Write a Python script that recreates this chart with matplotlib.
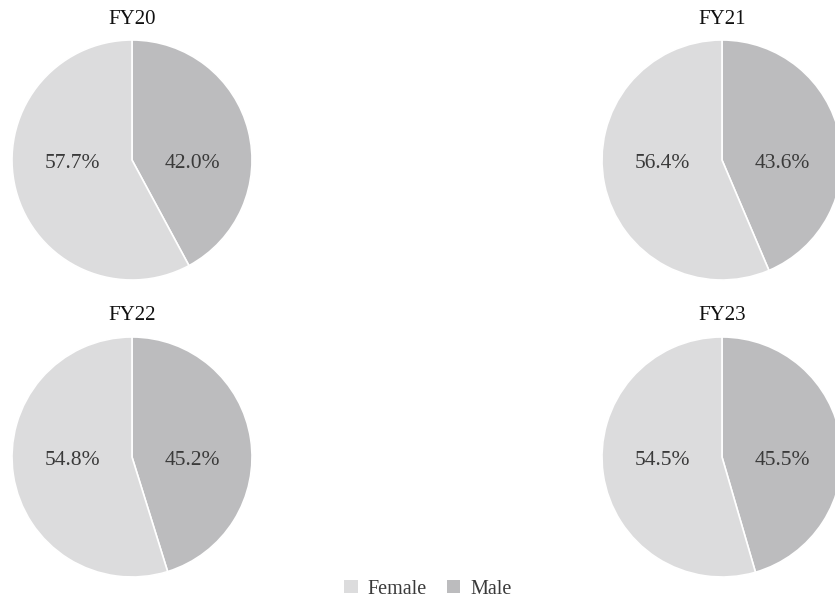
import matplotlib.pyplot as plt
from matplotlib.patches import Patch

# Gender split per fiscal year (%)
YEARS = ['FY20', 'FY21', 'FY22', 'FY23']
FEMALE = [57.7, 56.4, 54.8, 54.5]
MALE = [42.0, 43.6, 45.2, 45.5]

COLOR_FEMALE = '#dcdcdd'
COLOR_MALE = '#bcbcbe'
TEXT_COLOR = '#3a3a3a'

W, H = 835, 601
R = 120  # pie radius in pixels
# pie centres in pixels (x from left, y from top)
CENTRES = [(132, 160), (722, 160), (132, 457), (722, 457)]

plt.rcParams['font.family'] = ['Liberation Serif', 'DejaVu Serif']

fig = plt.figure(figsize=(W / 100, H / 100), dpi=100)

for year, fem, male, (cx, cy) in zip(YEARS, FEMALE, MALE, CENTRES):
    ax = fig.add_axes([(cx - R) / W, 1 - (cy + R) / H, 2 * R / W, 2 * R / H])
    ax.pie([male, fem], colors=[COLOR_MALE, COLOR_FEMALE], startangle=90,
           counterclock=False, radius=1,
           wedgeprops=dict(edgecolor='white', linewidth=1.2))
    ax.set_xlim(-1, 1)
    ax.set_ylim(-1, 1)
    ax.set_aspect('equal')
    ax.text(-0.5, -0.03, f'{fem:.1f}%', ha='center', va='center',
            fontsize=15.5, color=TEXT_COLOR)
    ax.text(0.5, -0.03, f'{male:.1f}%', ha='center', va='center',
            fontsize=15.5, color=TEXT_COLOR)
    ax.text(0, 1.175, year, ha='center', va='center', fontsize=15,
            color='#111111', clip_on=False)

handles = [Patch(facecolor=COLOR_FEMALE, label='Female'),
           Patch(facecolor=COLOR_MALE, label='Male')]
fig.legend(handles=handles, loc='center', bbox_to_anchor=(428 / W, 1 - 589 / H),
           ncol=2, frameon=False, fontsize=14.5, handlelength=0.65,
           handleheight=0.65, handletextpad=0.5, columnspacing=1.0,
           labelcolor=TEXT_COLOR)

fig.savefig('out.png', dpi=100)
